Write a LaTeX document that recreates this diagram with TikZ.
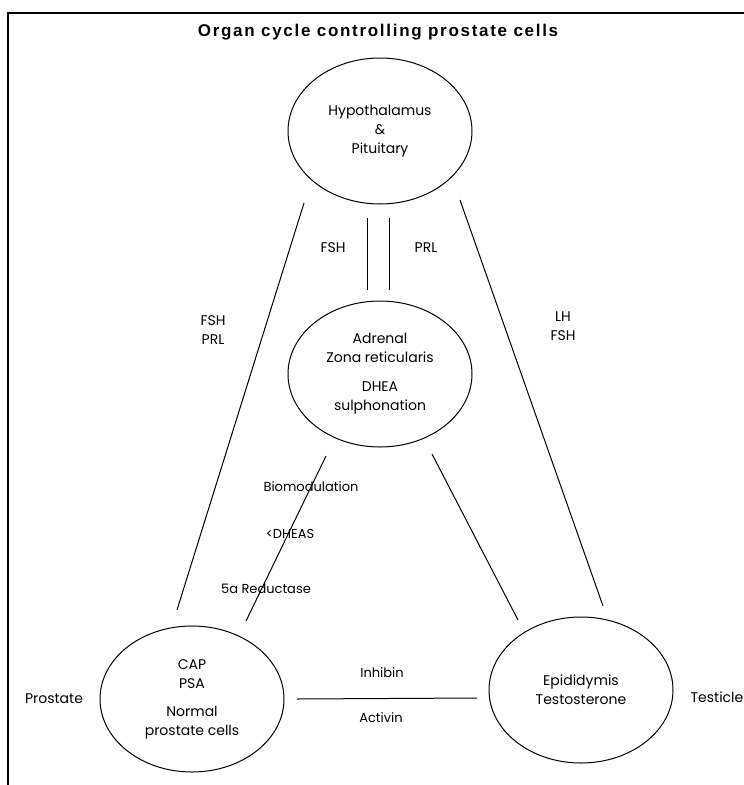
\documentclass[tikz,border=0pt]{standalone}
\usepackage{fontspec}
\setmainfont{Poppins}
\newfontfamily\titlefont[LetterSpace=10]{Liberation Sans}
\usetikzlibrary{shapes.geometric}

\begin{document}
\begin{tikzpicture}[x=1pt,y=-1pt,font=\fontsize{14}{19}\selectfont]
\tikzstyle{organ}=[draw,ellipse,line width=1pt,minimum width=184pt,minimum height=146pt,inner sep=0pt,align=center]
\tikzstyle{lbl}=[font=\fontsize{13}{19}\selectfont,inner sep=0pt]
\useasboundingbox (0,0) rectangle (744,785);
\draw[line width=2pt] (7,13) -- (744,13); \draw[line width=2.5pt] (8,12) -- (8,785);
\node[font=\titlefont\bfseries\fontsize{17}{19}\selectfont] (title) at (378,32) {Organ cycle controlling prostate cells};
\node[organ] (hyp) at (380,131) {Hypothalamus\\ \&\\ Pituitary};
\node[organ] (adr) at (380,374) {Adrenal\\ Zona reticularis\\[10pt] DHEA\\ sulphonation};
\node[organ] (pro) at (192,699) {CAP\\ PSA\\[9pt] Normal\\ prostate cells};
\node[organ] (epi) at (581,690) {Epididymis\\ Testosterone};
\node (prost) at (54,699) {Prostate}; \node (test) at (717,697) {Testicle};
% hormone lines between the organs
\coordinate (hA1) at (367,218); \coordinate (aH1) at (367,290);
\coordinate (hA2) at (389,218); \coordinate (aH2) at (389,290);
\coordinate (hP) at (304,203); \coordinate (pH) at (177,610);
\coordinate (hE) at (460,200); \coordinate (eH) at (603,606);
\coordinate (aP) at (326,456); \coordinate (pA) at (246,621);
\coordinate (aE) at (432,454); \coordinate (eA) at (518,620);
\coordinate (pE) at (297,699); \coordinate (eP) at (477,698);
\foreach \s/\t in {hA1/aH1,hA2/aH2,hP/pH,hE/eH,aP/pA,aE/eA,pE/eP} \draw[line width=1pt] (\s) -- (\t);
\node (fshM) at (333,248) {FSH}; \node (prlM) at (426,248) {PRL};
\node[align=center] (fshL) at (213,330) {FSH\\ PRL};
\node[align=center] (lhR) at (563,326) {LH\\ FSH};
\node[lbl] (bio) at (311,487) {Biomodulation};
\node[lbl] (dheas) at (290,534) {<DHEAS};
\node[lbl] (red) at (266,589) {5a Reductase};
\node[lbl] (inh) at (382,673) {Inhibin};
\node[lbl] (act) at (381,718) {Activin};
\end{tikzpicture}
\end{document}
